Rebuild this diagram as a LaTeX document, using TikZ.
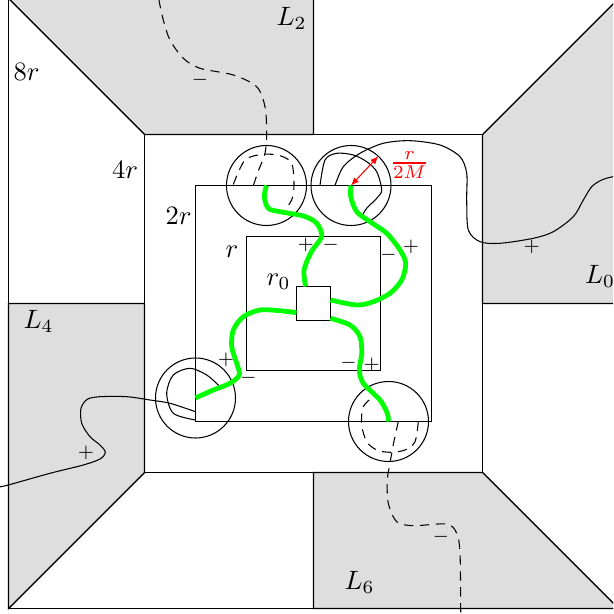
\documentclass[tikz,border=0pt]{standalone}
\usepackage{amsmath,amssymb}
\usepackage{tikz}
\usetikzlibrary{arrows.meta}
\definecolor{gris}{gray}{0.87}

\begin{document}
\begin{tikzpicture}[x=0.377pt, y=0.377pt,
    oculto/.style={dash pattern=on 3.5pt off 2.5pt},
    camino/.style={line width=1.8pt, green},
    signo/.style={font=\scriptsize}]
        % Marco
        \useasboundingbox (-313.5,-310.5) rectangle (299.5,303.5);
        \clip (-313.5,-310.5) rectangle (299.5,303.5);
        % Zonas grises
        \filldraw[fill=gris] (-305,305) -- (-169,169) -- (0,169) -- (0,305) -- cycle;
        \filldraw[fill=gris] (169,169) -- (305,305) -- (305,0) -- (169,0) -- cycle;
        \filldraw[fill=gris] (0,-169) -- (169,-169) -- (305,-305) -- (0,-305) -- cycle;
        \filldraw[fill=gris] (-169,0) -- (-169,-169) -- (-305,-305) -- (-305,0) -- cycle;
        % Cuadrados
        \draw (-305,-305) rectangle (305,305);
        \draw (-169,-169) rectangle (169,169);
        \draw (-118,-118) rectangle (118,118);
        \draw (-67,-67) rectangle (67,67);
        \draw (-17,-17) rectangle (17,17);
        % Diagonales
        \draw (-305,305) -- (-169,169);
        \draw (305,305) -- (169,169);
        \draw (-305,-305) -- (-169,-169);
        \draw (305,-305) -- (169,-169);
        % Etiquetas
        \node (l8r) at (-287,232) {$8r$};
        \node (l4r) at (-188.5,134) {$4r$};
        \node (l2r) at (-135,87.5) {$2r$};
        \node (lr) at (-81.5,52) {$r$};
        \node (lr0) at (-35,21.5) {$r_0$};
        \node (L2) at (-22,285) {$L_2$};
        \node (L0) at (286.5,27) {$L_0$};
        \node (L4) at (-275,-17.7) {$L_4$};
        \node (L6) at (46,-279) {$L_6$};
        % Bolas
        \coordinate (cNO) at (-47,118);
        \coordinate (cNE) at (37.5,118);
        \coordinate (cSO) at (-118,-94.5);
        \coordinate (cSE) at (75,-118);
        \draw (cNO) circle (40);
        \draw (cNE) circle (40);
        \draw (cSO) circle (40);
        \draw (cSE) circle (40);
        % Curva hacia L2 (oculta)
        \draw[oculto] plot[smooth] coordinates {(-60.2,118) (-55,133) (-48.5,150.2) (-46.8,170.2)
            (-48.5,196.8) (-56.8,216.8) (-80.2,228.5) (-113.5,235.2) (-130.2,245.2)
            (-143.5,263.5) (-150.2,283.5) (-154.5,303.5) (-155,315)};
        \draw[oculto] plot[smooth] coordinates {(-80.2,119) (-68.5,143.5) (-50.2,149.2) (-33.5,147.8)
            (-21.8,140.2) (-19.5,118.5) (-21.8,103.5) (-30.2,91.8)};
        % Curva hacia L0
        \draw plot[smooth] coordinates {(21.5,118) (29.8,136.8) (46.5,150.2) (69.8,160.2)
            (96.5,162.8) (126.5,158.5) (146.5,146.8) (153.2,130.2) (153.2,103.5)
            (154.8,73.5) (166.5,61.8) (186.5,60.2) (219.8,65.2) (239.8,71.8)
            (259.8,86.8) (269.8,103.5) (278.2,116.8) (288.2,123.5) (299.5,126.8) (315,129)};
        \draw plot[smooth] coordinates {(6.5,118) (11.5,143.5) (23.2,150.2) (39.8,148.5)
            (53.2,141.8) (63.2,131.8) (68.2,113.5) (63.2,105.2) (53.2,95.2) (48.2,86.8)};
        % Curva hacia L4
        \draw plot[smooth] coordinates {(-118,-108.2) (-143.5,-99.8) (-163.5,-96.5) (-186.8,-93.2)
            (-213.5,-93.2) (-226.2,-95.8) (-232.5,-104.8) (-231.8,-119.8) (-223.5,-133.2)
            (-213.5,-141.5) (-208.2,-148.8) (-213.5,-155.5) (-230.2,-161.5) (-263.5,-169.8)
            (-305.2,-181.5) (-315,-183.5)};
        \draw plot[smooth] coordinates {(-118,-116.5) (-140.2,-109.8) (-146.8,-89.8) (-140.2,-71.5)
            (-123.5,-64.8) (-106.8,-71.5) (-93.5,-83.2)};
        % Curva hacia L6 (oculta)
        \draw[oculto] plot[smooth] coordinates {(84.8,-118) (80,-140) (76.5,-159.8) (73.8,-176.5)
            (74.8,-199.8) (83.2,-218.2) (99.8,-222.2) (133.2,-220.5) (143.2,-229.8)
            (146.5,-249.8) (147.2,-305.2) (147.2,-315)};
        \draw[oculto] plot[smooth] coordinates {(104.8,-118) (101.5,-138.2) (91.5,-146.5) (76.5,-148.8)
            (63.2,-146.5) (53.2,-138.2) (48.2,-121.5) (49.8,-103.2) (61.5,-91.5)};
        % Caminos verdes
        \draw[camino] plot[smooth] coordinates {(-7.8,17) (-9.5,33.5) (-2,52) (8.2,67) (3.2,80.2)
            (-10,87.5) (-33.5,91.8) (-45.2,95.2) (-49.2,106.8) (cNO)};
        \draw[camino] plot[smooth] coordinates {(17,3.5) (43.2,-1.5) (59.8,1.8) (76.5,10.2)
            (88.2,23.5) (92.2,40.2) (86.5,53.5) (73.2,70.2) (56.5,81.8) (43.2,91.8)
            (37.2,106.8) (cNE)};
        \draw[camino] plot[smooth] coordinates {(-17,-9.2) (-33.5,-7.2) (-53.5,-6.5) (-70.2,-13.2)
            (-80.2,-26.5) (-81.8,-43.2) (-76.8,-59.8) (-74.2,-71.5) (-83.5,-79.8)
            (-100.2,-86.5) (cSO)};
        \draw[camino] plot[smooth] coordinates {(17,-14.8) (36.5,-21.5) (46.5,-33.2) (48.2,-49.8)
            (45.8,-66.5) (49.8,-79.8) (66.5,-96.5) (73.8,-109.8) (cSE)};
        % Signos
        \node[signo] (s1) at (-7.8,58.5) {$+$};
        \node[signo] (s2) at (17.2,58.5) {$-$};
        \node[signo] (s3) at (74.8,48.5) {$-$};
        \node[signo] (s4) at (97.5,56.8) {$+$};
        \node[signo] (s5) at (-87.5,-56.5) {$+$};
        \node[signo] (s6) at (-65.2,-74.8) {$-$};
        \node[signo] (s7) at (34.8,-59.8) {$-$};
        \node[signo] (s8) at (58.2,-61.5) {$+$};
        \node[signo] (s9) at (218.2,56.8) {$+$};
        \node[signo] (s10) at (-113.5,223.5) {$-$};
        \node[signo] (s11) at (-227.5,-149.8) {$+$};
        \node[signo] (s12) at (127.3,-233.2) {$-$};
        % Radio r/2M
        \draw[red, {Latex[length=3pt,width=2.5pt]}-{Latex[length=3pt,width=2.5pt]}] (cNE) -- ++(47:40);
        \node[red] (frac) at (96,138.5) {$\frac{r}{2M}$};
\end{tikzpicture}
\end{document}
